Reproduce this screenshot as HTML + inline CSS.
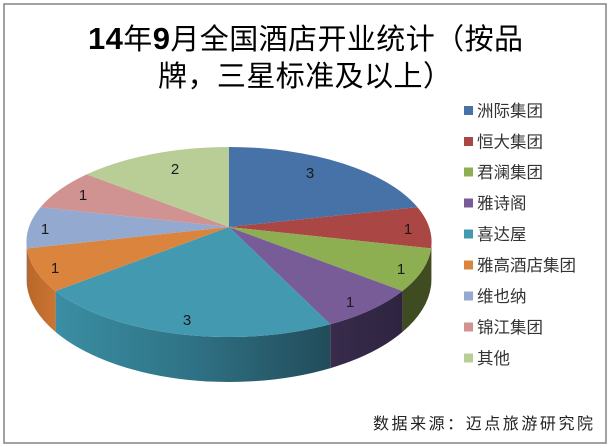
<!DOCTYPE html>
<html>
<head>
<meta charset="utf-8">
<style>
  html, body { margin: 0; padding: 0; background: #ffffff; }
  body { width: 611px; height: 446px; overflow: hidden; }
  svg { display: block; }
  .cjk { font-family: "Liberation Sans", "Noto Sans CJK SC", sans-serif; }
</style>
</head>
<body>
<svg width="611" height="446" viewBox="0 0 611 446" xmlns="http://www.w3.org/2000/svg">
  <defs>
    <linearGradient id="tealSide" x1="55" y1="0" x2="330" y2="0" gradientUnits="userSpaceOnUse">
      <stop offset="0" stop-color="#3b8ea3"/>
      <stop offset="0.5" stop-color="#2f7285"/>
      <stop offset="1" stop-color="#224c5a"/>
    </linearGradient>
    <linearGradient id="purpleSide" x1="330" y1="0" x2="402" y2="0" gradientUnits="userSpaceOnUse">
      <stop offset="0" stop-color="#382b4c"/>
      <stop offset="1" stop-color="#2e2440"/>
    </linearGradient>
    <linearGradient id="orangeSide" x1="27" y1="0" x2="56" y2="0" gradientUnits="userSpaceOnUse">
      <stop offset="0" stop-color="#b8672b"/>
      <stop offset="1" stop-color="#cb7532"/>
    </linearGradient>
  </defs>

  <rect x="0" y="0" width="611" height="446" fill="#ffffff"/>
  <!-- chart border -->
  <rect x="4" y="4" width="602" height="439" fill="none" stroke="#8a8a8a" stroke-width="1.6"/>

  <!-- title -->
  <text class="cjk" x="88" y="49" font-size="29" fill="#000" textLength="435" lengthAdjust="spacing"><tspan font-weight="bold" font-size="31">14</tspan>年<tspan font-weight="bold" font-size="31">9</tspan>月全国酒店开业统计（按品</text>
  <text class="cjk" x="158" y="86" font-size="29" fill="#000" textLength="294" lengthAdjust="spacing">牌，三星标准及以上）</text>

  <!-- side walls -->
  <path d="M431.5,242 A202.5,95 0 0 1 431.1,248.4 L431.1,285.6 A202.5,103.2 0 0 0 431.5,278.7 Z" fill="#7d302d"/>
  <path d="M431.1,248.4 A202.5,95 0 0 1 402.4,291 L402.4,332 A202.5,103.2 0 0 0 431.1,285.6 Z" fill="#3f4c22"/>
  <path d="M402.4,291 A202.5,95 0 0 1 330.2,324.3 L330.2,368.2 A202.5,103.2 0 0 0 402.4,332 Z" fill="url(#purpleSide)"/>
  <path d="M330.2,324.3 A202.5,95 0 0 1 55.6,291 L55.6,332 A202.5,103.2 0 0 0 330.2,368.2 Z" fill="url(#tealSide)"/>
  <path d="M55.6,291 A202.5,95 0 0 1 26.9,248.4 L26.9,285.6 A202.5,103.2 0 0 0 55.6,332 Z" fill="url(#orangeSide)"/>
  <path d="M26.9,248.4 A202.5,95 0 0 1 26.5,242 L26.5,278.7 A202.5,103.2 0 0 0 26.9,285.6 Z" fill="#7b8fb3"/>

  <!-- top face slices -->
  <path d="M229,227 L229,147 A202.5,95 0 0 1 417.4,207.1 Z" fill="#4672a8"/>
  <path d="M229,227 L417.4,207.1 A202.5,95 0 0 1 431.1,248.4 Z" fill="#aa4643"/>
  <path d="M229,227 L431.1,248.4 A202.5,95 0 0 1 402.4,291 Z" fill="#8daf51"/>
  <path d="M229,227 L402.4,291 A202.5,95 0 0 1 330.2,324.3 Z" fill="#785c98"/>
  <path d="M229,227 L330.2,324.3 A202.5,95 0 0 1 55.6,291 Z" fill="#4399b0"/>
  <path d="M229,227 L55.6,291 A202.5,95 0 0 1 26.9,248.4 Z" fill="#db843d"/>
  <path d="M229,227 L26.9,248.4 A202.5,95 0 0 1 40.6,207.1 Z" fill="#93a9cf"/>
  <path d="M229,227 L40.6,207.1 A202.5,95 0 0 1 86.7,174.4 Z" fill="#d19392"/>
  <path d="M229,227 L86.7,174.4 A202.5,95 0 0 1 229,147 Z" fill="#b9cd96"/>

  <!-- data labels -->
  <g font-family="Liberation Sans, sans-serif" font-size="15" fill="#1a1a1a" text-anchor="middle">
    <text x="310" y="178">3</text>
    <text x="408" y="234">1</text>
    <text x="401" y="274">1</text>
    <text x="350" y="307">1</text>
    <text x="187" y="325">3</text>
    <text x="55" y="273">1</text>
    <text x="45" y="234">1</text>
    <text x="83" y="200">1</text>
    <text x="175" y="174">2</text>
  </g>

  <!-- legend -->
  <g class="cjk" font-size="16.5" fill="#333333">
    <rect x="464" y="106" width="9" height="9" fill="#4672a8"/>
    <text x="477" y="116.5">洲际集团</text>
    <rect x="464" y="137" width="9" height="9" fill="#aa4643"/>
    <text x="477" y="147.5">恒大集团</text>
    <rect x="464" y="167.5" width="9" height="9" fill="#8daf51"/>
    <text x="477" y="178">君澜集团</text>
    <rect x="464" y="198.5" width="9" height="9" fill="#785c98"/>
    <text x="477" y="209">雅诗阁</text>
    <rect x="464" y="229.5" width="9" height="9" fill="#4399b0"/>
    <text x="477" y="240">喜达屋</text>
    <rect x="464" y="260.5" width="9" height="9" fill="#db843d"/>
    <text x="477" y="271">雅高酒店集团</text>
    <rect x="464" y="291.5" width="9" height="9" fill="#93a9cf"/>
    <text x="477" y="302">维也纳</text>
    <rect x="464" y="322.5" width="9" height="9" fill="#d19392"/>
    <text x="477" y="333">锦江集团</text>
    <rect x="464" y="353.5" width="9" height="9" fill="#b9cd96"/>
    <text x="477" y="364">其他</text>
  </g>

  <!-- source -->
  <text class="cjk" x="373" y="429" font-size="16" fill="#222222" textLength="220" lengthAdjust="spacing">数据来源：迈点旅游研究院</text>
</svg>
</body>
</html>
